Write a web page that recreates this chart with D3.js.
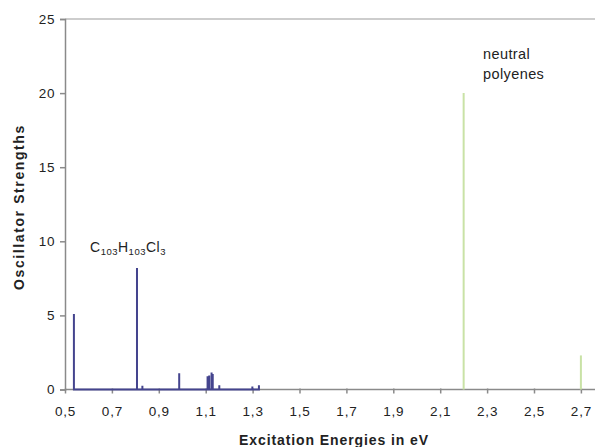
<!DOCTYPE html>
<html>
<head>
<meta charset="utf-8">
<script src="https://d3js.org/d3.v7.min.js"></script>
<style>
  body { margin: 0; background: #fff; }
  text { font-family: "Liberation Sans", Arial, sans-serif; }
</style>
</head>
<body>
<div id="chart"></div>
<script>
// C103H103Cl3 stick spectrum
var chlorEnergies = [0.538, 0.807, 0.83, 0.987, 1.108, 1.115, 1.125, 1.13, 1.158, 1.299, 1.327];
var chlorStrengths = [5.1, 8.2, 0.25, 1.1, 0.9, 0.95, 1.15, 1.05, 0.28, 0.2, 0.28];
// neutral polyenes
var polyEnergies = [2.2, 2.7];
var polyStrengths = [20.0, 2.3];

var xTicks = [0.5, 0.7, 0.9, 1.1, 1.3, 1.5, 1.7, 1.9, 2.1, 2.3, 2.5, 2.7];
var yTicks = [0, 5, 10, 15, 20, 25];

var width = 595, height = 447;
var font = "Liberation Sans, Arial, sans-serif";

var svg = d3.select("#chart").append("svg")
  .attr("width", width)
  .attr("height", height);

var x = d3.scaleLinear().domain([0.5, 2.8]).range([65, 65 + 2.3 * 234.5]);
var y = d3.scaleLinear().domain([0, 25]).range([389.5, 19]);

var fmt = function(d) { return d3.format(".1f")(d).replace(".", ","); };

// top frame line
svg.append("line")
  .attr("x1", x(0.5)).attr("x2", width)
  .attr("y1", y(25)).attr("y2", y(25))
  .attr("stroke", "#bdbdbd").attr("stroke-width", 1.5);

// y axis
var yAxis = svg.append("g")
  .attr("transform", "translate(" + x(0.5) + ",0)")
  .call(d3.axisLeft(y).tickValues(yTicks).tickSize(5).tickPadding(5));
yAxis.select(".domain").attr("stroke", "#8a8a8a").attr("stroke-width", 1.5);
yAxis.selectAll(".tick line").attr("stroke", "#8a8a8a").attr("stroke-width", 1.5);
yAxis.selectAll("text").attr("font-size", 13.5).attr("fill", "#222")
  .attr("font-family", font).attr("letter-spacing", 0.6);

// x axis
var xAxis = svg.append("g")
  .attr("transform", "translate(0," + y(0) + ")")
  .call(d3.axisBottom(x).tickValues(xTicks).tickFormat(fmt).tickSizeInner(5).tickSizeOuter(0).tickPadding(0));
xAxis.select(".domain").attr("stroke", "#8a8a8a").attr("stroke-width", 1.5)
  .attr("d", "M" + x(0.5) + ",0H" + width);
xAxis.selectAll(".tick line").attr("stroke", "#8a8a8a").attr("stroke-width", 1.5)
  .attr("y1", -1).attr("y2", 4);
xAxis.selectAll("text").attr("font-size", 13.5).attr("fill", "#222")
  .attr("font-family", font).attr("letter-spacing", 0.8)
  .attr("y", 26).attr("dy", null);

// neutral polyenes sticks
svg.selectAll(".poly")
  .data(polyEnergies)
  .enter().append("line")
  .attr("class", "poly")
  .attr("x1", function(d) { return x(d); })
  .attr("x2", function(d) { return x(d); })
  .attr("y1", y(0))
  .attr("y2", function(d, i) { return y(polyStrengths[i]); })
  .attr("stroke", "#c9e2a6")
  .attr("stroke-width", 2);

// chlorinated spectrum as continuous line
var pts = [];
chlorEnergies.forEach(function(e, i) {
  pts.push([e, 0]);
  pts.push([e, chlorStrengths[i]]);
  pts.push([e, 0]);
});
svg.append("path")
  .datum(pts)
  .attr("fill", "none")
  .attr("stroke", "#44448e")
  .attr("stroke-width", 2)
  .attr("d", d3.line().x(function(d) { return x(d[0]); }).y(function(d) { return y(d[1]); }));

// labels
var lab = svg.append("text").attr("x", 90).attr("y", 252).attr("font-size", 14)
  .attr("fill", "#222").attr("letter-spacing", 0.5);
lab.append("tspan").text("C");
lab.append("tspan").attr("font-size", 9.5).attr("dy", 3).text("103");
lab.append("tspan").attr("dy", -3).text("H");
lab.append("tspan").attr("font-size", 9.5).attr("dy", 3).text("103");
lab.append("tspan").attr("dy", -3).text("Cl");
lab.append("tspan").attr("font-size", 9.5).attr("dy", 3).text("3");

svg.append("text").attr("x", 483).attr("y", 59).attr("font-size", 14.5).attr("fill", "#222")
  .attr("letter-spacing", 0.4).text("neutral");
svg.append("text").attr("x", 483).attr("y", 79).attr("font-size", 14.5).attr("fill", "#222")
  .attr("letter-spacing", 0.4).text("polyenes");

// axis titles
svg.append("text")
  .attr("x", 334).attr("y", 445)
  .attr("text-anchor", "middle")
  .attr("font-size", 14).attr("font-weight", "bold").attr("fill", "#222")
  .attr("letter-spacing", 0.9)
  .text("Excitation Energies in eV");

svg.append("text")
  .attr("transform", "translate(24,207) rotate(-90)")
  .attr("text-anchor", "middle")
  .attr("font-size", 14).attr("font-weight", "bold").attr("fill", "#222")
  .attr("letter-spacing", 1.6)
  .text("Oscillator Strengths");
</script>
</body>
</html>
